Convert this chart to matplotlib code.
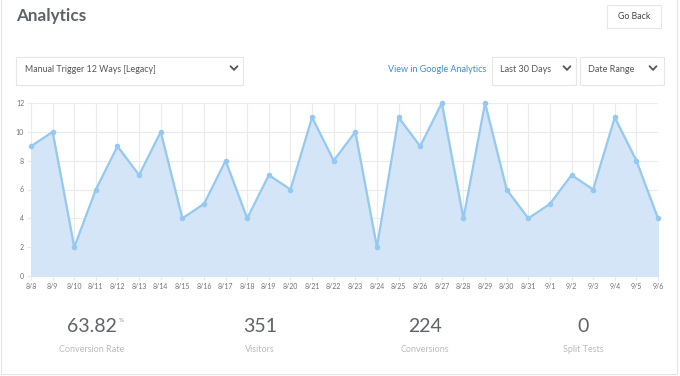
import matplotlib
matplotlib.use('Agg')
import matplotlib.pyplot as plt
import matplotlib.patches as patches

plt.rcParams['font.family'] = ['Lato', 'DejaVu Sans']

W, H = 680, 376

dates = ["8/8", "8/9", "8/10", "8/11", "8/12", "8/13", "8/14", "8/15", "8/16", "8/17",
         "8/18", "8/19", "8/20", "8/21", "8/22", "8/23", "8/24", "8/25", "8/26", "8/27",
         "8/28", "8/29", "8/30", "8/31", "9/1", "9/2", "9/3", "9/4", "9/5", "9/6"]
conversions = [9, 10, 2, 6, 9, 7, 10, 4, 5, 8,
               4, 7, 6, 11, 8, 10, 2, 11, 9, 12,
               4, 12, 6, 4, 5, 7, 6, 11, 8, 4]
y_ticks = [0, 2, 4, 6, 8, 10, 12]

stat_values = ["63.82", "351", "224", "0"]
stat_labels = ["Conversion Rate", "Visitors", "Conversions", "Split Tests"]
stat_x = [92, 260, 425, 583]


def fx(px):
    return px / W


def fy(py):
    return 1 - py / H


def box(fig, x0, y0, x1, y1, ec="#e6e6e6", fc="white"):
    r = patches.Rectangle((fx(x0), fy(y1)), fx(x1 - x0), (y1 - y0) / H,
                          transform=fig.transFigure, facecolor=fc,
                          edgecolor=ec, linewidth=0.8, zorder=-1)
    fig.patches.append(r)


def chevron(fig, cx, cy):
    fig.lines.append(plt.Line2D([fx(cx - 3.5), fx(cx), fx(cx + 3.5)],
                                [fy(cy - 1.8), fy(cy + 1.8), fy(cy - 1.8)],
                                transform=fig.transFigure, color="#555555",
                                linewidth=1.3, solid_capstyle="round",
                                solid_joinstyle="miter"))


fig = plt.figure(figsize=(W / 100, H / 100), dpi=100)
fig.patch.set_facecolor("white")

# card outline
box(fig, 1, -2, 677, 374, ec="#e4e4e4", fc="none")

fig.text(fx(16), fy(16), "Analytics", fontsize=12.3, fontweight="bold",
         color="#5f6268", va="center", ha="left")

box(fig, 607, 5, 661, 28)
fig.text(fx(634), fy(16.5), "Go Back", fontsize=6.3, color="#444444",
         va="center", ha="center")

box(fig, 16, 57, 243, 85)
fig.text(fx(25), fy(69), "Manual Trigger 12 Ways [Legacy]", fontsize=6.4,
         color="#555555", va="center", ha="left")
chevron(fig, 234, 68)

fig.text(fx(437), fy(69), "View in Google Analytics", fontsize=6.5,
         color="#3f8bdc", va="center", ha="center")

box(fig, 492, 57, 576, 85)
fig.text(fx(500), fy(69), "Last 30 Days", fontsize=6.5, color="#555555",
         va="center", ha="left")
chevron(fig, 567, 68)

box(fig, 580, 57, 664, 85)
fig.text(fx(588), fy(69), "Date Range", fontsize=6.5, color="#555555",
         va="center", ha="left")
chevron(fig, 653, 68)

# chart
ax = fig.add_axes([fx(31), fy(276), fx(658 - 31), (276 - 103) / H])
x = list(range(len(dates)))
ax.fill_between(x, conversions, 0, color="#d3e5f6", zorder=2)
ax.plot(x, conversions, color="#95c9f0", linewidth=1.6, marker="o",
        markersize=3, zorder=3, clip_on=False)
ax.set_xlim(0, len(dates) - 1)
ax.set_ylim(0, 12)
ax.set_xticks(x)
ax.set_xticklabels(dates)
ax.set_yticks(y_ticks)
ax.grid(True, color="#ebebeb", linewidth=0.8, zorder=0)
ax.set_axisbelow(True)
for s in ax.spines.values():
    s.set_visible(False)
ax.tick_params(axis="both", length=3, color="#ebebeb", labelsize=5,
               labelcolor="#707070", pad=2)

# stats
for v, lab, cx in zip(stat_values, stat_labels, stat_x):
    fig.text(fx(cx), fy(327), v, fontsize=14, color="#5f6268",
             va="center", ha="center")
    fig.text(fx(cx), fy(350), lab, fontsize=6.5, color="#bcbcbc",
             va="center", ha="center")
fig.text(fx(119), fy(321), "%", fontsize=4.5, color="#8a8a8a",
         va="center", ha="left")

fig.savefig("out.png", dpi=100)
